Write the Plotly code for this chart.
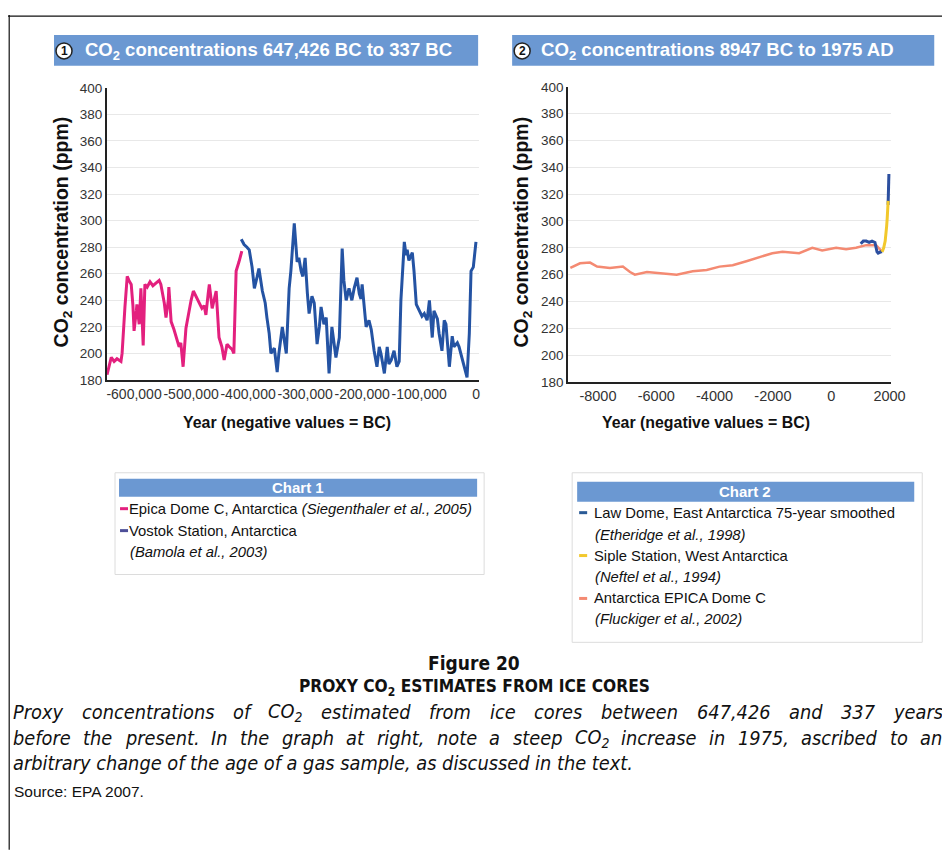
import plotly.graph_objects as go

W, H = 950, 851
# measured mapping between figure pixels and the photographed picture
SC, OX, OY = 0.985, 9.0, 14.0


def fx(x):
    return ((x - OX) / SC) / W


def fy(y):
    return 1 - ((y - OY) / SC) / H


# ---------------- Chart 1 data (year, ppm) ----------------
epica_years = [-647400, -640000, -635000, -630000, -623000, -621000, -616000, -612000, -609000,
               -605000, -602000, -600000, -596000, -595000, -591000, -588000, -584000, -581000,
               -577000, -572000, -567000, -561000, -556000, -553000, -551000, -547000, -544000,
               -540000, -539000, -535000, -530000, -526000, -521000, -518000, -514000, -509000,
               -504000, -500000, -496000, -491000, -486000, -481000, -477000, -474000, -470000,
               -468000, -463000, -460000, -456000, -451000, -446000, -442000, -437000, -433000,
               -428000, -425000, -421000, -416000, -411000]
epica_co2 = [184, 197, 194, 196, 194, 200, 235, 258, 255,
             252, 236, 217, 232, 237, 222, 249, 206, 252,
             250, 254, 251, 253, 255, 252, 247, 238, 227,
             240, 250, 224, 218, 212, 205, 208, 190, 219,
             232, 240, 247, 243, 238, 234, 236, 229, 245,
             252, 234, 240, 247, 212, 205, 195, 207, 205,
             203, 200, 262, 269, 277]

vostok_years = [-412000, -407000, -402000, -398000, -393000, -389000, -384000, -381000, -375000,
                -370000, -367000, -363000, -360000, -354000, -349000, -346000, -340000, -337000,
                -333000, -328000, -325000, -319000, -316000, -314000, -311000, -307000, -304000,
                -300000, -296000, -293000, -288000, -284000, -279000, -275000, -272000, -267000,
                -263000, -258000, -253000, -249000, -246000, -240000, -235000, -232000, -228000,
                -223000, -218000, -214000, -209000, -205000, -202000, -200000, -196000, -193000,
                -188000, -184000, -179000, -174000, -170000, -167000, -161000, -156000, -153000,
                -149000, -144000, -139000, -135000, -132000, -126000, -123000, -121000, -118000,
                -112000, -109000, -105000, -100000, -95000, -91000, -86000, -82000, -77000,
                -74000, -68000, -65000, -60000, -56000, -53000, -47000, -42000, -39000,
                -33000, -30000, -25000, -19000, -16000, -12000, -9000, -5000, -3500,
                -2000, -337]
vostok_co2 = [286, 282, 280, 278, 265, 249, 258, 264, 247,
              238, 227, 215, 200, 204, 186, 200, 220, 212,
              200, 249, 262, 298, 280, 269, 272, 262, 258,
              272, 245, 230, 243, 238, 207, 220, 235, 222,
              227, 185, 220, 205, 197, 212, 279, 255, 240,
              249, 240, 249, 257, 245, 241, 252, 235, 220,
              225, 218, 202, 190, 205, 200, 185, 205, 192,
              195, 202, 190, 194, 240, 284, 274, 278, 270,
              276, 262, 237, 233, 228, 230, 225, 240, 212,
              232, 226, 215, 202, 225, 222, 190, 213, 205,
              208, 205, 197, 188, 182, 215, 262, 265, 272,
              280, 284]

# ---------------- Chart 2 data (year, ppm) ----------------
dome_c_years = [-8947, -8615, -8270, -8030, -7590, -7145, -6900, -6735, -6320, -5640, -5300,
                -4750, -4270, -3830, -3380, -2910, -2460, -2020, -1670, -1100, -650, -310,
                170, 510, 850, 1200, 1540, 1750]
dome_c_co2 = [265, 268.5, 269, 266, 265, 266, 262, 260, 262, 261, 260,
              262.5, 263.5, 266, 267, 270, 273, 276, 277, 276, 280, 278,
              280, 279, 280, 282, 282, 277]

law_dome_years = [1010, 1100, 1200, 1300, 1400, 1500, 1570, 1610, 1700, 1750, None,
                  1950, 1960, 1970, 1978]
law_dome_co2 = [283, 285, 285, 284, 285, 284, 277, 276, 277, 277, None,
                312, 318, 326, 335]

siple_years = [1744, 1800, 1850, 1880, 1900, 1920, 1940, 1953]
siple_co2 = [277, 280, 285, 290, 296, 302, 309, 315]

# ---------------- Ticks ----------------
y_ticks = [180, 200, 220, 240, 260, 280, 300, 320, 340, 360, 380, 400]
x1_ticks = [-600000, -500000, -400000, -300000, -200000, -100000, 0]
x1_labels = ["-600,000", "-500,000", "-400,000", "-300,000", "-200,000", "-100,000", "0"]
x2_ticks = [-8000, -6000, -4000, -2000, 0, 2000]
x2_labels = ["-8000", "-6000", "-4000", "-2000", "0", "2000"]

PINK = "#e3207e"
VOSTOK = "#2453a3"
SALMON = "#f48a72"
YELLOW = "#f2c82c"
LAWDOME = "#2c4f9f"

fig = go.Figure()
fig.add_trace(go.Scatter(x=epica_years, y=epica_co2, mode="lines",
                         line=dict(color=PINK, width=3), xaxis="x", yaxis="y"))
fig.add_trace(go.Scatter(x=vostok_years, y=vostok_co2, mode="lines",
                         line=dict(color=VOSTOK, width=3), xaxis="x", yaxis="y"))
fig.add_trace(go.Scatter(x=dome_c_years, y=dome_c_co2, mode="lines",
                         line=dict(color=SALMON, width=2.5), xaxis="x2", yaxis="y2"))
fig.add_trace(go.Scatter(x=law_dome_years, y=law_dome_co2, mode="lines", connectgaps=False,
                         line=dict(color=LAWDOME, width=3), xaxis="x2", yaxis="y2"))
fig.add_trace(go.Scatter(x=siple_years, y=siple_co2, mode="lines",
                         line=dict(color=YELLOW, width=3), xaxis="x2", yaxis="y2"))

ARIAL = "Arial, Liberation Sans, sans-serif"
common_x = dict(showline=True, linecolor="#222", linewidth=2, showgrid=False, zeroline=False,
                ticks="", tickangle=0)
common_y = dict(showline=True, linecolor="#222", linewidth=2, showgrid=True, gridcolor="#e8e8e8",
                zeroline=False, ticks="", range=[180, 400],
                tickfont=dict(family=ARIAL, size=13.5, color="#333"),
                tickvals=y_ticks, ticktext=[str(v) for v in y_ticks])

fig.update_layout(
    width=W, height=H, margin=dict(l=0, r=0, t=0, b=0),
    paper_bgcolor="white", plot_bgcolor="white", showlegend=False,
    xaxis=dict(common_x, domain=[fx(108), fx(480)], range=[-647426, 5200], anchor="y",
               tickvals=x1_ticks, ticktext=x1_labels,
               tickfont=dict(family=ARIAL, size=14, color="#333")),
    yaxis=dict(common_y, domain=[fy(380), fy(87)], anchor="x"),
    xaxis2=dict(common_x, domain=[fx(569), fx(892)], range=[-9022, 2058], anchor="y2",
                tickvals=x2_ticks, ticktext=x2_labels,
                tickfont=dict(family=ARIAL, size=14.5, color="#333")),
    yaxis2=dict(common_y, domain=[fy(382), fy(86)], anchor="x2"),
)

shapes = []
annotations = []


def rect(x0, y0, x1, y1, fill=None, line_color=None, lw=1):
    shapes.append(dict(type="rect", xref="paper", yref="paper",
                       x0=fx(x0), x1=fx(x1), y0=fy(y1), y1=fy(y0),
                       fillcolor=fill if fill else "rgba(0,0,0,0)",
                       line=dict(color=line_color if line_color else "rgba(0,0,0,0)", width=lw),
                       layer="below"))


def seg(x0, y0, x1, y1, color, lw):
    shapes.append(dict(type="line", xref="paper", yref="paper",
                       x0=fx(x0), x1=fx(x1), y0=fy(y0), y1=fy(y1),
                       line=dict(color=color, width=lw)))


def text(x, y, s, size, color="#111", family=ARIAL,
         xanchor="left", yanchor="middle", textangle=0):
    annotations.append(dict(xref="paper", yref="paper", x=fx(x), y=fy(y), text=s,
                            showarrow=False, xanchor=xanchor, yanchor=yanchor,
                            textangle=textangle, borderpad=0, borderwidth=0,
                            font=dict(size=size, color=color, family=family)))


BAR = "#6b98d2"

# page frame (left and top), as close to the edge as the figure allows
seg(OX + 1.2, OY, OX + 1.2, 851, "#111", 1.2)
seg(OX, OY + 1.2, 950, OY + 1.2, "#111", 1.2)

# chart title bars
rect(55, 34, 479, 65, fill=BAR)
rect(513, 34, 935, 65, fill=BAR)
for cx, cy, num in [(65, 50, "1"), (523, 50, "2")]:
    shapes.append(dict(type="circle", xref="paper", yref="paper",
                       x0=fx(cx - 8), x1=fx(cx + 8), y0=fy(cy + 8), y1=fy(cy - 8),
                       fillcolor="white", line=dict(color="#222", width=1.5)))
    text(cx, cy, "<b>" + num + "</b>", 12, color="#111", xanchor="center")
text(86, 50, "<b>CO<sub>2</sub> concentrations 647,426 BC to 337 BC</b>", 18.5, color="white")
text(542, 50, "<b>CO<sub>2</sub> concentrations 8947 BC to 1975 AD</b>", 18.6, color="white")

# axis titles
text(63, 232, "<b>CO<sub>2</sub> concentration (ppm)</b>", 19.5, textangle=-90, xanchor="center")
text(523, 232, "<b>CO<sub>2</sub> concentration (ppm)</b>", 19.5, textangle=-90, xanchor="center")
text(288, 423, "<b>Year (negative values = BC)</b>", 15.9, xanchor="center")
text(707, 423, "<b>Year (negative values = BC)</b>", 15.9, xanchor="center")

# legend box chart 1
rect(116, 473, 485, 575, line_color="#dcdcdc")
rect(120, 479, 478, 497, fill=BAR)
text(299, 488, "<b>Chart 1</b>", 15, color="white", xanchor="center")
seg(121, 509, 129, 509, PINK, 3)
text(130, 509, "Epica Dome C, Antarctica <i>(Siegenthaler et al., 2005)</i>", 14.8)
seg(121, 531, 129, 531, "#4d4f98", 3)
text(130, 531, "Vostok Station, Antarctica", 14.8)
text(131, 552, "<i>(Bamola et al., 2003)</i>", 14.8)

# legend box chart 2
rect(573, 473, 923, 643, line_color="#dcdcdc")
rect(578, 482, 915, 502, fill=BAR)
text(746, 492, "<b>Chart 2</b>", 15, color="white", xanchor="center")
seg(580, 513, 588, 513, "#2a5a96", 3)
text(595, 513, "Law Dome, East Antarctica 75-year smoothed", 14.8)
text(596, 535, "<i>(Etheridge et al., 1998)</i>", 14.8)
seg(580, 556, 588, 556, YELLOW, 3)
text(595, 556, "Siple Station, West Antarctica", 14.8)
text(596, 578, "<i>(Neftel et al., 1994)</i>", 14.8)
seg(580, 599, 588, 599, SALMON, 3)
text(595, 599, "Antarctica EPICA Dome C", 14.8)
text(596, 620, "<i>(Fluckiger et al., 2002)</i>", 14.8)

# caption
CAP = "DejaVu Sans Condensed, Liberation Sans Narrow, Arial Narrow, sans-serif"
text(475, 664, "<b>Figure 20</b>", 19, family=CAP, xanchor="center")
text(475, 688, "<b>PROXY CO<sub>2</sub> ESTIMATES FROM ICE CORES</b>", 17.2, family=CAP, xanchor="center")

# approximate advance widths of DejaVu Sans (units per 2048 em); condensed ~0.911
DV = {" ": 651, ",": 651, ".": 651, "a": 1255, "b": 1300, "c": 1126, "d": 1300, "e": 1260,
      "f": 721, "g": 1300, "h": 1298, "i": 569, "j": 569, "k": 1186, "l": 569, "m": 1995,
      "n": 1298, "o": 1253, "p": 1300, "q": 1300, "r": 842, "s": 1067, "t": 803, "u": 1298,
      "v": 1212, "w": 1675, "x": 1212, "y": 1212, "z": 1075, "C": 1430, "O": 1612, "P": 1235,
      "I": 604, "_": 1303 * 0.7}
for d in "0123456789":
    DV[d] = 1303


def word_width(w, size):
    return sum(DV.get(ch, 1250) for ch in w) / 2048 * 0.911 * size * SC


CAP_SIZE = 19.8
CAP_LEFT = 14


def justified(line, y, x_left=CAP_LEFT, x_right=943):
    words = line.split(" ")
    widths = [word_width(w, CAP_SIZE) for w in words]
    gap = (x_right - x_left - sum(widths)) / (len(words) - 1)
    x = x_left
    for w, wd in zip(words, widths):
        html = w.replace("CO_", "CO<sub>2</sub>")
        text(x, y, "<i>" + html + "</i>", CAP_SIZE, family=CAP)
        x += wd + gap


justified("Proxy concentrations of CO_ estimated from ice cores between 647,426 and 337 years", 713)
justified("before the present. In the graph at right, note a steep CO_ increase in 1975, ascribed to an", 739)
text(CAP_LEFT, 765, "<i>arbitrary change of the age of a gas sample, as discussed in the text.</i>",
     CAP_SIZE, family=CAP)
text(15, 793, "Source: EPA 2007.", 15.5)

fig.update_layout(shapes=shapes, annotations=annotations)
fig.write_html("out.html")
